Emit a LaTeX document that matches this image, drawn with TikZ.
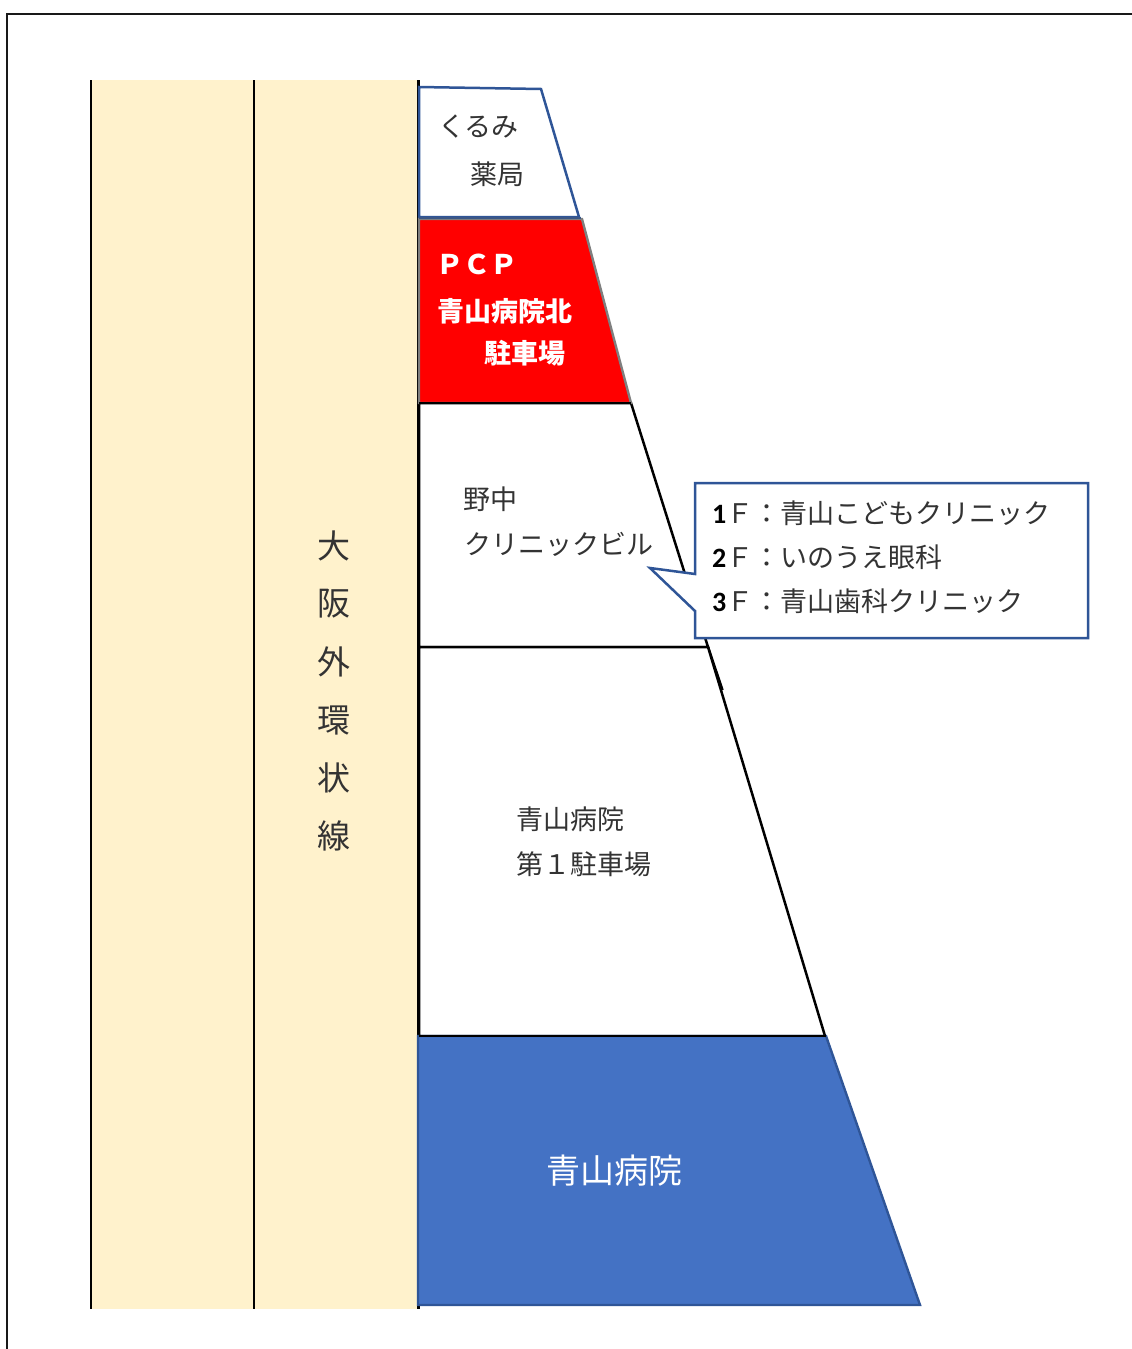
\documentclass[tikz,border=0pt]{standalone}
\usepackage{fontspec}
\setmainfont{Noto Sans CJK JP}
\newfontfamily\latinf{Carlito}
\definecolor{road}{HTML}{FFF2CC}
\definecolor{frameblue}{HTML}{2F5597}
\definecolor{fillblue}{HTML}{4472C4}
\definecolor{framegray}{HTML}{7F7F7F}
\tikzset{
  lab/.style={anchor=west,inner sep=0pt,font=\fontsize{27}{27}\selectfont,text=black!80},
  callab/.style={anchor=west,inner sep=0pt,font=\fontsize{27}{27}\selectfont,text=black!80},
  boldlab/.style={lab,text=white,font=\fontsize{27}{27}\bfseries\selectfont},
  roadlab/.style={anchor=center,inner sep=0pt,font=\fontsize{33}{33}\selectfont,text=black!80},
  blk/.style={draw=black,line width=2.5pt},
  blu/.style={draw=frameblue,line width=2.5pt,line join=miter},
}
\newcommand{\fnum}[1]{{\latinf\bfseries\fontsize{28}{28}\selectfont\color{black}#1}}
\begin{document}
\begin{tikzpicture}[x=1pt,y=-1pt]
\useasboundingbox (0,0) rectangle (1132,1349);
% outer frame
\draw[black!90,line width=2.2pt] (7,1349) -- (7,14) -- (1132,14);
% road
\fill[road] (90,80) rectangle (418,1309);
\draw[black,line width=2.4pt] (91,80) -- (91,1309);
\draw[black,line width=2.4pt] (254,80) -- (254,1309);
\draw[black,line width=2.4pt] (418.5,80) -- (418.5,1309);
% buildings
\path[blk,fill=white] (419,403) -- (631,403) -- (708,647) -- (419,647) -- cycle;
\draw[blk] (708,647) -- (722.5,690);
\path[blk,fill=white] (419,647) -- (708,647) -- (825,1036) -- (419,1036) -- cycle;
\path[draw=frameblue,line width=2.4pt,fill=fillblue] (418,1036) -- (826,1036) -- (920,1305) -- (418,1305) -- cycle;
\path[blk] (419,1036) -- (826,1036);
\path[blu,fill=white] (419,87) -- (541,89) -- (579,217) -- (419,217) -- cycle;
\path[draw=framegray,line width=2.4pt,fill=red] (419,219) -- (582,219) -- (631,403) -- (419,403) -- cycle;
\draw[black,line width=2.5pt] (419,403) -- (631,403);
\draw[frameblue!80!black!90,line width=2.5pt] (419,218) -- (581,218);
% callout
\path[blu,fill=white] (695,483) -- (1088,483) -- (1088,638) -- (695,638) -- (695,611) -- (650,568) -- (695,574) -- cycle;
% labels
\node[lab] (kurumi) at (438,127) {くるみ};
\node[lab] (yakkyoku) at (470,174) {薬局};
\node[boldlab] (pcp) at (436,264) {ＰＣＰ};
\node[boldlab] (kita) at (437,311) {青山病院北};
\node[boldlab] (kitap) at (484,353) {駐車場};
\node[lab] (nonaka) at (463,499) {野中};
\node[lab] (clinic) at (464,544) {クリニックビル};
\node[lab] (aoyama1) at (516,819) {青山病院};
\node[lab] (dai1) at (516,864) {第１駐車場};
\node[lab,text=white,font=\fontsize{34}{34}\selectfont] (aoyama) at (546,1171) {青山病院};
\node[callab] (f1) at (712,513) {\fnum{1}Ｆ：青山こどもクリニック};
\node[callab] (f2) at (712,557) {\fnum{2}Ｆ：いのうえ眼科};
\node[callab] (f3) at (712,601) {\fnum{3}Ｆ：青山歯科クリニック};
\node[roadlab] (r1) at (334,546) {大};
\node[roadlab] (r2) at (334,604) {阪};
\node[roadlab] (r3) at (334,662) {外};
\node[roadlab] (r4) at (334,720) {環};
\node[roadlab] (r5) at (334,778) {状};
\node[roadlab] (r6) at (334,836) {線};
\end{tikzpicture}
\end{document}
